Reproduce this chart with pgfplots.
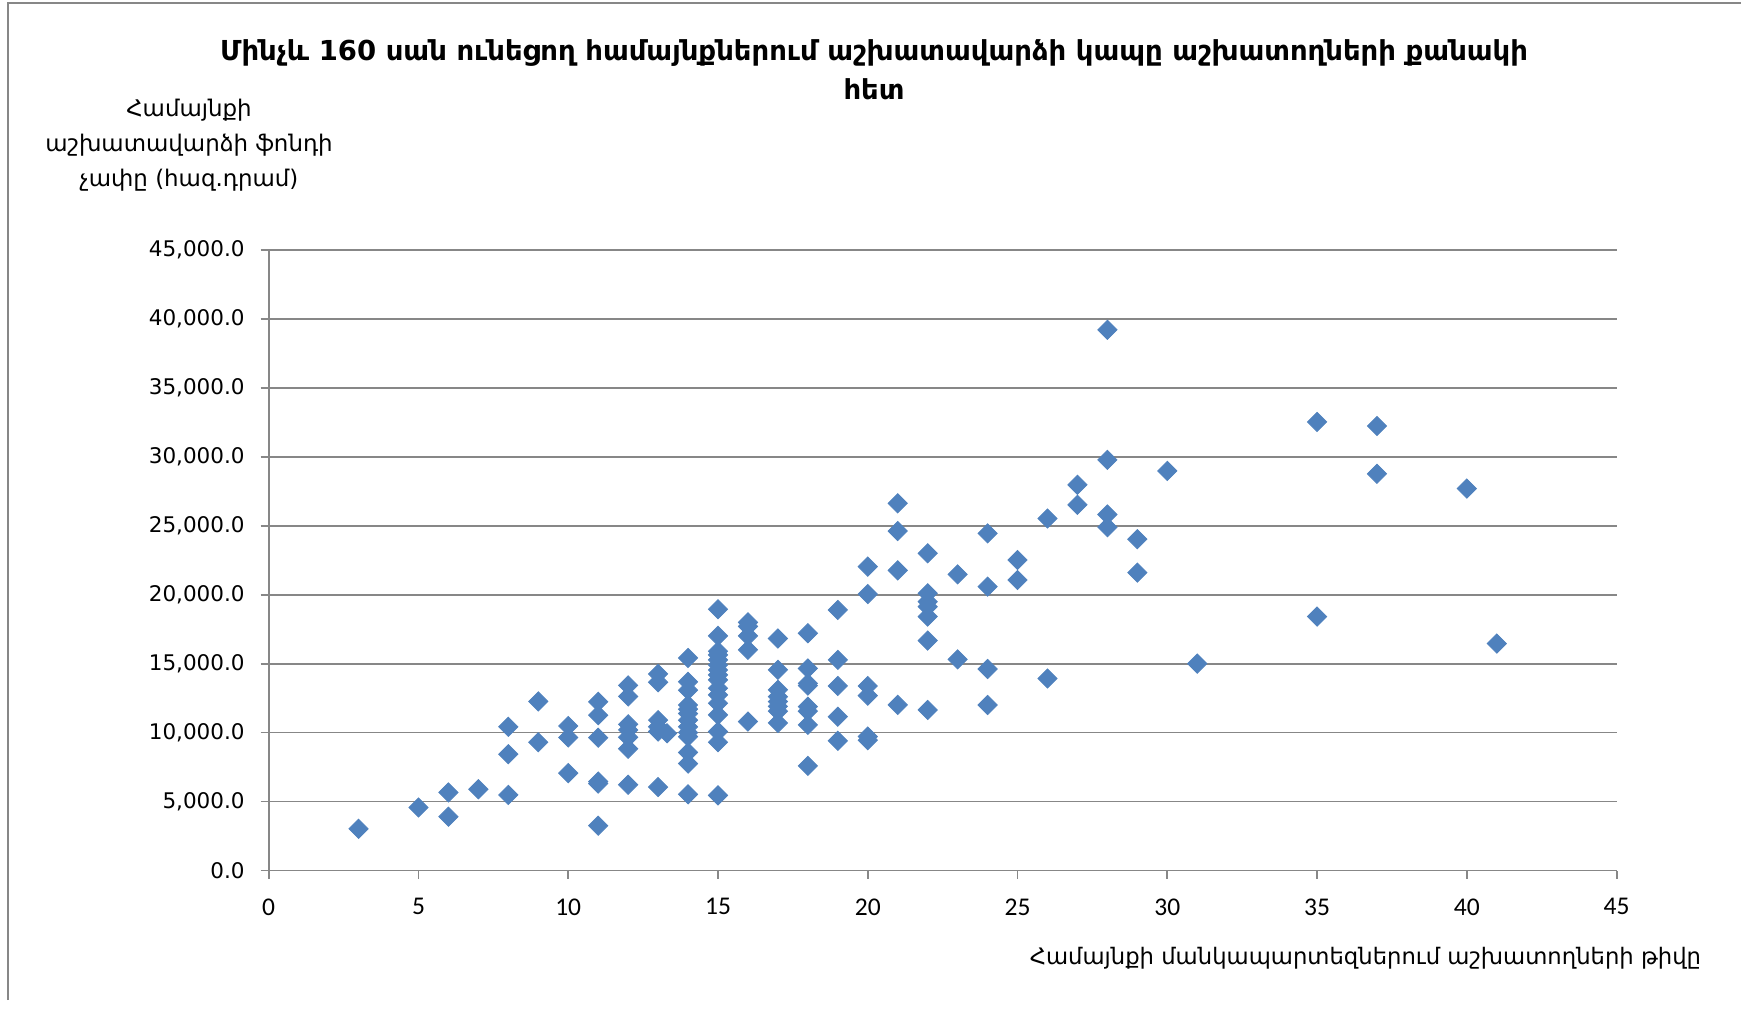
\documentclass[border=0pt]{standalone}
\usepackage{fontspec}
\setmainfont{DejaVu Sans}
\newfontfamily\carlito{Carlito}
\usepackage{pgfplots}
\pgfplotsset{compat=1.18}
\definecolor{mk}{HTML}{4F81BD}
\definecolor{gr}{HTML}{878787}
\begin{document}
\begin{tikzpicture}
\useasboundingbox (0,0) rectangle (870.5bp,-510.5bp);
\draw[gr, line width=1bp] (4bp,-500bp) -- (4bp,-1.5bp) -- (900bp,-1.5bp);
\node[align=center, font=\bfseries\fontsize{13.8}{19.5}\selectfont] at (437bp,-34.75bp)
  {Մինչև 160 սան ունեցող համայնքներում աշխատավարձի կապը աշխատողների քանակի\\հետ};
\node[align=center, font=\fontsize{11.5}{17.5}\selectfont] at (94.5bp,-72.5bp)
  {Համայնքի\\աշխատավարձի ֆոնդի\\չափը  (հազ.դրամ)};
\node[anchor=east, font=\fontsize{11.4}{14}\selectfont] at (854bp,-479bp)
  {Համայնքի մանկապարտեզներում աշխատողների թիվը};
\begin{axis}[
  at={(134.35bp,-435.25bp)}, anchor=south west,
  scale only axis, width=673.95bp, height=310.35bp,
  xmin=0, xmax=45, ymin=0, ymax=45000,
  xtick={0,5,...,45}, ytick={0,5000,...,45000},
  scaled y ticks=false,
  axis x line*=bottom, axis y line*=left,
  axis line style={gr, line width=0.9bp, -},
  tick style={gr, line width=0.9bp},
  major tick length=4bp, tick align=outside,
  ymajorgrids, grid style={gr, line width=0.9bp},
  xticklabel style={font=\carlito\fontsize{12.8}{14}\selectfont, yshift=-6.5bp},
  yticklabel style={font=\fontsize{10.8}{12}\selectfont, xshift=-4.5bp,
    /pgf/number format/.cd, fixed, fixed zerofill, precision=1, 1000 sep={,}, assume math mode=true},
  xticklabel style={/pgf/number format/assume math mode=true},
  clip=false,
]
\addplot[only marks, mark=square*, mark size=3.4bp, mark options={rotate=45, fill=mk, draw=mk}] coordinates {
(3,3020) (5,4570) (6,5660) (6,3900) (7,5890)
(8,10420) (8,8430) (8,5480)
(9,12260) (9,9300)
(10,10480) (10,9640) (10,7060)
(11,12230) (11,11260) (11,9630) (11,6450) (11,6300) (11,3250)
(12,13420) (12,12620) (12,10600) (12,10190) (12,9660) (12,8830) (12,6220)
(13,14250) (13,13650) (13,10900) (13,10420) (13,10080) (13,6050) (13.3,9950)
(14,15410) (14,13680) (14,13070) (14,12000) (14,11700) (14,11380) (14,10900) (14,10420) (14,10000) (14,9700) (14,8560) (14,7750) (14,5520)
(15,18940) (15,17010) (15,15900) (15,15630) (15,15270) (15,14900) (15,14540) (15,14180) (15,13820) (15,13210) (15,12730) (15,12130) (15,11280) (15,10070) (15,9300) (15,5450)
(16,17990) (16,17700) (16,17010) (16,16000) (16,10800)
(17,16820) (17,14550) (17,13100) (17,12600) (17,12250) (17,11900) (17,11550) (17,10700)
(18,17200) (18,14650) (18,13570) (18,13400) (18,11880) (18,11550) (18,10560) (18,7590)
(19,18890) (19,15270) (19,13380) (19,11150) (19,9400)
(20,22030) (20,20040) (20,13380) (20,12680) (20,9710) (20,9450)
(21,26620) (21,24610) (21,21760) (21,12010)
(22,23000) (22,20100) (22,19490) (22,19130) (22,18410) (22,16670) (22,11640)
(23,21470) (23,15310)
(24,24440) (24,20580) (24,14610) (24,12000)
(25,22510) (25,21060)
(26,25520) (26,13920)
(27,27960) (27,26510)
(28,39200) (28,29770) (28,25810) (28,24890)
(29,24020) (29,21600)
(30,28970) (31,15000)
(35,32520) (35,18410)
(37,32230) (37,28760)
(40,27690) (41,16450)
};
\end{axis}
\end{tikzpicture}
\end{document}
